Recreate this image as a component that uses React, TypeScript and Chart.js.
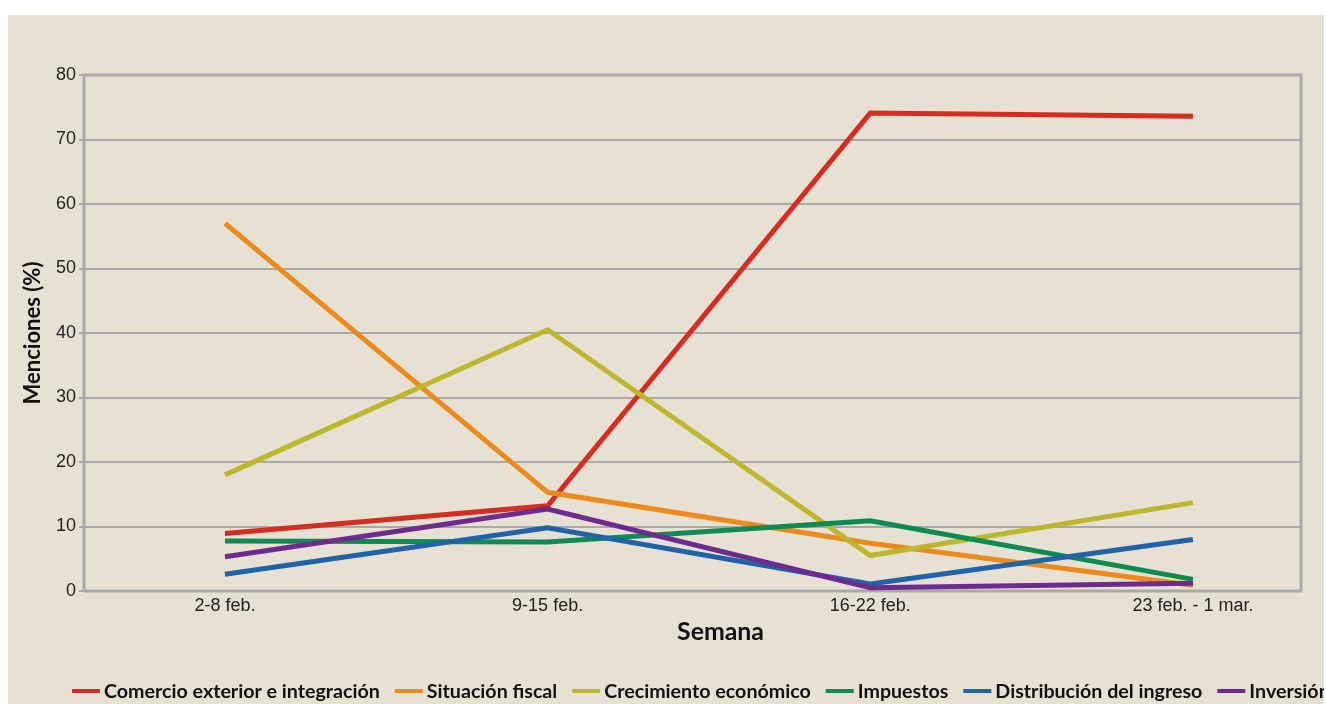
import { useEffect, useRef } from "react";
import { Chart, registerables } from "chart.js";

Chart.register(...registerables);

const categories = ["2-8 feb.", "9-15 feb.", "16-22 feb.", "23 feb. - 1 mar."];
const seriesNames = [
  "Comercio exterior e integración",
  "Situación fiscal",
  "Crecimiento económico",
  "Impuestos",
  "Distribución del ingreso",
  "Inversión",
];
const seriesColors = ["#d42d22", "#ec8a1d", "#bdb62f", "#0f8a52", "#2163a8", "#6c2b8d"];

const comercio = [8.9, 13.2, 74.1, 73.6];
const fiscal = [57.0, 15.3, 7.4, 0.9];
const crecimiento = [18.0, 40.5, 5.5, 13.7];
const impuestos = [7.75, 7.6, 10.9, 1.8];
const distribucion = [2.6, 9.8, 1.1, 8.0];
const inversion = [5.3, 12.7, 0.5, 1.2];

const yTicks = [0, 10, 20, 30, 40, 50, 60, 70, 80];
const xTitle = "Semana";
const yTitle = "Menciones (%)";

const GRID = "#a9a9a9";
const TITLE_FONT = "Lato, 'Open Sans', sans-serif";

export default function App() {
  const ref = useRef<HTMLCanvasElement>(null);

  useEffect(() => {
    const canvas = ref.current;
    if (!canvas) return;
    const values = [comercio, fiscal, crecimiento, impuestos, distribucion, inversion];

    const fit = (ctx: CanvasRenderingContext2D, text: string, target: number) => {
      ctx.font = `bold 100px ${TITLE_FONT}`;
      const w = ctx.measureText(text).width;
      return (100 * target) / w;
    };

    const overlay = {
      id: "overlay",
      beforeDatasetsDraw(chart: any) {
        const { ctx, chartArea } = chart;
        ctx.save();
        ctx.strokeStyle = GRID;
        ctx.lineWidth = 3;
        ctx.strokeRect(
          chartArea.left,
          chartArea.top,
          chartArea.right - chartArea.left,
          chartArea.bottom - chartArea.top
        );
        ctx.restore();
      },
      afterDraw(chart: any) {
        const { ctx, chartArea } = chart;
        ctx.save();
        ctx.fillStyle = "#111";
        const ySize = fit(ctx, yTitle, 143);
        ctx.font = `bold ${ySize}px ${TITLE_FONT}`;
        ctx.textAlign = "center";
        ctx.textBaseline = "middle";
        ctx.save();
        ctx.translate(25, (chartArea.top + chartArea.bottom) / 2);
        ctx.rotate(-Math.PI / 2);
        ctx.fillText(yTitle, 0, 0);
        ctx.restore();
        const xSize = fit(ctx, xTitle, 87);
        ctx.font = `bold ${xSize}px ${TITLE_FONT}`;
        ctx.fillText(xTitle, (chartArea.left + chartArea.right) / 2 + 28, 617);
        const lSize = fit(ctx, seriesNames[0], 276);
        ctx.font = `bold ${lSize}px ${TITLE_FONT}`;
        ctx.textAlign = "left";
        let x = 64;
        const y = 676;
        seriesNames.forEach((name, i) => {
          ctx.strokeStyle = seriesColors[i];
          ctx.lineWidth = 4;
          ctx.beginPath();
          ctx.moveTo(x, y);
          ctx.lineTo(x + 28, y);
          ctx.stroke();
          ctx.fillText(name, x + 32, y + 1);
          x += 32 + ctx.measureText(name).width + 15;
        });
        ctx.restore();
      },
    };

    const chart = new Chart(canvas, {
      type: "line",
      data: {
        datasets: seriesNames.map((name, i) => ({
          label: name,
          data: values[i].map((v, j) => ({ x: j, y: v })),
          borderColor: seriesColors[i],
          backgroundColor: seriesColors[i],
          borderWidth: 5,
          pointRadius: 0,
          tension: 0,
          order: seriesNames.length - i,
        })),
      },
      options: {
        animation: false,
        responsive: false,
        devicePixelRatio: 1,
        layout: { padding: { left: 0, top: 60, right: 23, bottom: 0 } },
        plugins: { legend: { display: false }, tooltip: { enabled: false } },
        scales: {
          x: {
            type: "linear",
            min: -0.437,
            max: 3.335,
            afterBuildTicks: (scale: any) => {
              scale.ticks = categories.map((_, i) => ({ value: i }));
            },
            afterFit: (scale: any) => {
              scale.height = 113;
            },
            ticks: {
              callback: (v: any) => categories[v] ?? "",
              font: { family: "'Liberation Sans', Arial, sans-serif", size: 18 },
              color: "#222",
              padding: 4,
              maxRotation: 0,
              autoSkip: false,
            },
            grid: { display: false, drawTicks: false },
            border: { display: false },
          },
          y: {
            min: 0,
            max: 80,
            afterBuildTicks: (scale: any) => {
              scale.ticks = yTicks.map((v) => ({ value: v }));
            },
            afterFit: (scale: any) => {
              scale.width = 76;
            },
            ticks: {
              font: { family: "'Liberation Sans', Arial, sans-serif", size: 18 },
              color: "#222",
              padding: 3,
            },
            grid: { color: GRID, lineWidth: 2, tickLength: 5, drawTicks: true },
            border: { display: false },
          },
        },
      },
      plugins: [overlay],
    });
    return () => chart.destroy();
  }, []);

  return (
    <div
      style={{
        position: "fixed",
        left: 8,
        top: 15,
        width: 1316,
        height: 689,
        background: "#e7e1d4",
        overflow: "hidden",
      }}
    >
      <canvas ref={ref} width={1316} height={689} style={{ display: "block" }} />
    </div>
  );
}
